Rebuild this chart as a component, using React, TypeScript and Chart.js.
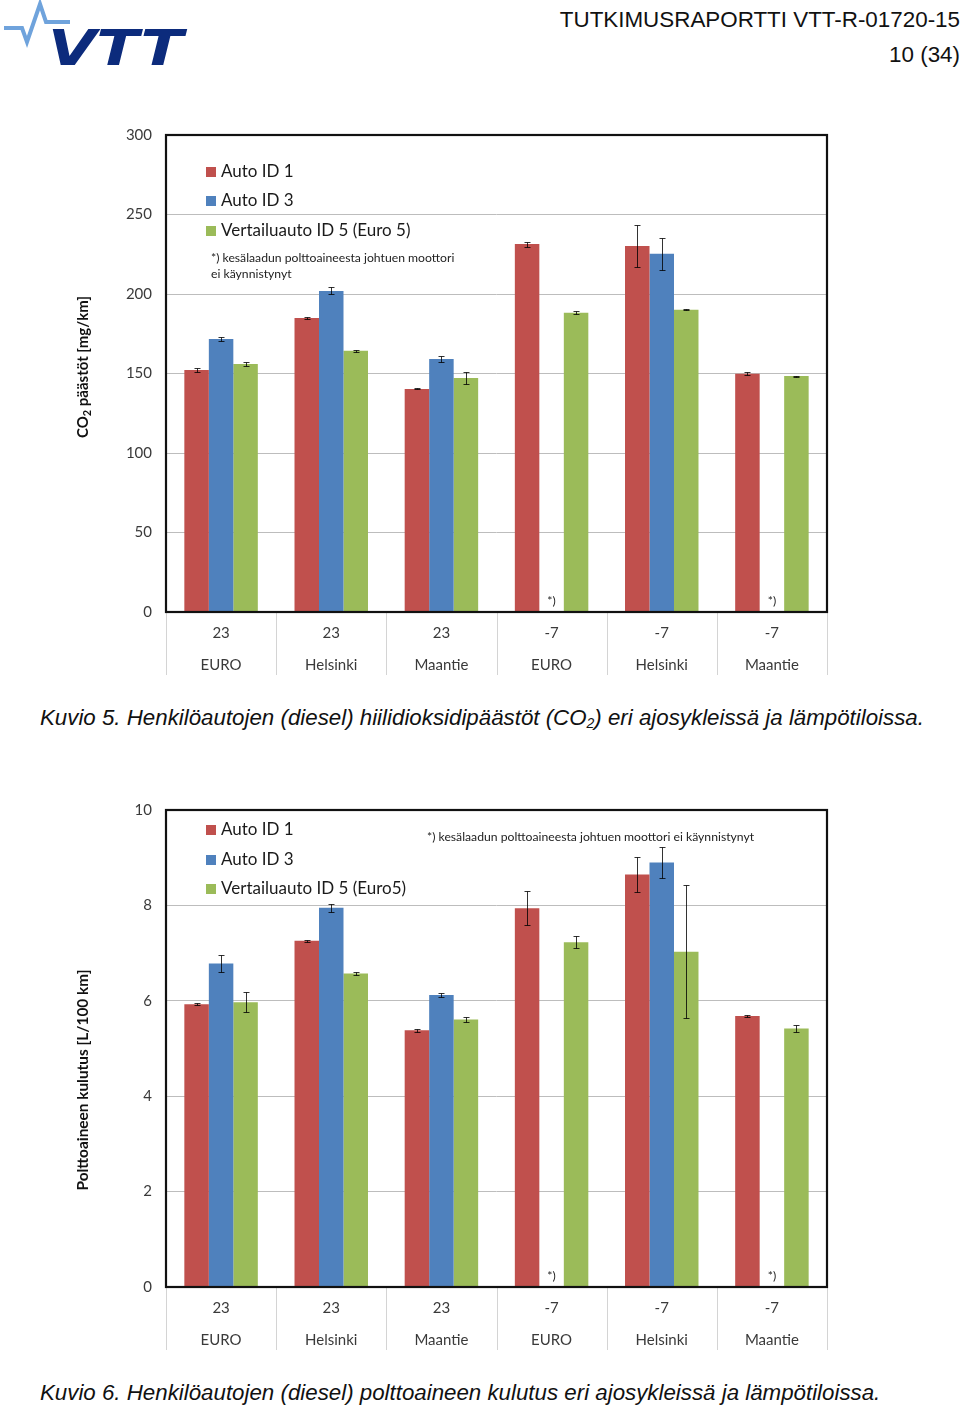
import React, { useEffect, useRef } from "react";
import { Chart, registerables } from "chart.js";

Chart.register(...registerables);

// ---------- data ----------
const tempLabels = ["23", "23", "23", "-7", "-7", "-7"];
const cycleLabels = ["EURO", "Helsinki", "Maantie", "EURO", "Helsinki", "Maantie"];

const seriesNames1 = ["Auto ID 1", "Auto ID 3", "Vertailuauto ID 5 (Euro 5)"];
const seriesNames2 = ["Auto ID 1", "Auto ID 3", "Vertailuauto ID 5 (Euro5)"];

const co2Auto1 = [152.2, 184.9, 140.3, 231.4, 230.2, 149.9];
const co2Auto1Err = [1.5, 0.4, 0.3, 1.6, 13, 1];
const co2Auto3 = [171.7, 201.9, 159.1, null, 225.3, null];
const co2Auto3Err = [1.3, 2.2, 1.8, null, 10, null];
const co2Ref = [156, 164.3, 147.2, 188.2, 190.1, 148.4];
const co2RefErr = [1.2, 0.7, 3.9, 1, 0.4, 0.3];

const fuelAuto1 = [5.93, 7.26, 5.38, 7.94, 8.65, 5.68];
const fuelAuto1Err = [0.02, 0.02, 0.03, 0.36, 0.37, 0.03];
const fuelAuto3 = [6.78, 7.95, 6.12, null, 8.9, null];
const fuelAuto3Err = [0.17, 0.08, 0.04, null, 0.33, null];
const fuelRef = [5.97, 6.57, 5.61, 7.23, 7.03, 5.42];
const fuelRefErr = [0.21, 0.03, 0.05, 0.13, 1.4, 0.08];

const missingNote = "*) kesälaadun polttoaineesta johtuen moottori ei käynnistynyt";
const missingMark = "*)";

const COLORS = ["#C0504D", "#4F81BD", "#9BBB59"];
const FONT = "Lato, 'Open Sans', sans-serif";

type Cfg = {
  names: string[];
  values: (number | null)[][];
  errors: (number | null)[][];
  yMax: number;
  yStep: number;
  padTop: number;
  legendY: number[];
  noteLines: string[];
  noteX: number;
  noteY: number;
  titleParts: { text: string; sub?: boolean }[];
  titleCenterY: number;
  titleSize: number;
};

function makeChart(canvas: HTMLCanvasElement, cfg: Cfg) {
  const decor = {
    id: "decor",
    afterDatasetsDraw(chart: any) {
      const ctx = chart.ctx;
      const ys = chart.scales.y;
      ctx.save();
      ctx.strokeStyle = "rgba(0,0,0,0.8)";
      ctx.lineWidth = 1;
      chart.data.datasets.forEach((ds: any, i: number) => {
        const meta = chart.getDatasetMeta(i);
        meta.data.forEach((el: any, j: number) => {
          const v = ds.data[j];
          const e = cfg.errors[i][j];
          if (v == null || e == null) return;
          const x = Math.round(el.x) + 0.5;
          const t = Math.round(ys.getPixelForValue(v + e)) + 0.5;
          const b = Math.round(ys.getPixelForValue(v - e)) + 0.5;
          ctx.beginPath();
          ctx.moveTo(x, t);
          ctx.lineTo(x, b);
          ctx.moveTo(x - 3, t);
          ctx.lineTo(x + 3, t);
          ctx.moveTo(x - 3, b);
          ctx.lineTo(x + 3, b);
          ctx.stroke();
        });
      });
      ctx.restore();
    },
    afterDraw(chart: any) {
      const ctx = chart.ctx;
      const a = chart.chartArea;
      const xs = chart.scales.x;
      ctx.save();
      // category separators below the plot
      ctx.strokeStyle = "#d4d4d4";
      ctx.lineWidth = 1;
      const n = chart.data.labels.length;
      const w = (a.right - a.left) / n;
      for (let k = 0; k <= n; k++) {
        const x = Math.round(a.left + k * w) + 0.5;
        ctx.beginPath();
        ctx.moveTo(x, a.bottom);
        ctx.lineTo(x, a.bottom + 63);
        ctx.stroke();
      }
      // frame
      ctx.strokeStyle = "#111";
      ctx.lineWidth = 2.2;
      ctx.strokeRect(a.left, a.top, a.right - a.left, a.bottom - a.top);
      // legend
      ctx.textBaseline = "middle";
      ctx.font = `17px ${FONT}`;
      cfg.names.forEach((name, i) => {
        const y = cfg.legendY[i];
        ctx.fillStyle = COLORS[i];
        ctx.fillRect(206, y - 5, 10, 10);
        ctx.fillStyle = "#1a1a1a";
        ctx.fillText(name, 221, y);
      });
      // note
      ctx.font = `12.2px ${FONT}`;
      ctx.fillStyle = "#222";
      cfg.noteLines.forEach((line, i) => ctx.fillText(line, cfg.noteX, cfg.noteY + i * 16));
      // missing marks
      ctx.textAlign = "center";
      cfg.values[1].forEach((v, j) => {
        if (v == null) {
          const x = xs.getPixelForValue(j);
          ctx.fillText(missingMark, x, a.bottom - 11);
        }
      });
      // y title
      ctx.translate(83, cfg.titleCenterY);
      ctx.rotate(-Math.PI / 2);
      ctx.textAlign = "left";
      ctx.fillStyle = "#111";
      const big = `bold ${cfg.titleSize}px ${FONT}`;
      const small = `bold ${Math.round(cfg.titleSize * 0.7)}px ${FONT}`;
      let total = 0;
      cfg.titleParts.forEach((p) => {
        ctx.font = p.sub ? small : big;
        total += ctx.measureText(p.text).width;
      });
      let x0 = -total / 2;
      cfg.titleParts.forEach((p) => {
        ctx.font = p.sub ? small : big;
        ctx.fillText(p.text, x0, p.sub ? 4 : 0);
        x0 += ctx.measureText(p.text).width;
      });
      ctx.restore();
    },
  };

  return new Chart(canvas, {
    type: "bar",
    data: {
      labels: tempLabels.map((t, i) => [t, cycleLabels[i]]),
      datasets: cfg.values.map((vals, i) => ({
        label: cfg.names[i],
        data: vals,
        backgroundColor: COLORS[i],
        borderWidth: 0,
        categoryPercentage: 0.667,
        barPercentage: 1.0,
      })),
    },
    options: {
      animation: false,
      responsive: false,
      devicePixelRatio: 1,
      layout: { padding: { left: 0, right: 133, top: cfg.padTop, bottom: 0 } },
      plugins: { legend: { display: false }, tooltip: { enabled: false } },
      scales: {
        x: {
          grid: { display: false },
          border: { display: false },
          ticks: {
            color: "#3a3a3a",
            font: { family: FONT, size: 15, lineHeight: 32 / 15 },
            padding: -3,
            maxRotation: 0,
            autoSkip: false,
          },
          afterFit: (s: any) => {
            s.height = 78;
          },
        },
        y: {
          min: 0,
          max: cfg.yMax,
          grid: { color: "#bdbdbd", drawTicks: false, lineWidth: 1 },
          border: { display: false },
          ticks: {
            stepSize: cfg.yStep,
            color: "#3a3a3a",
            font: { family: FONT, size: 15 },
            padding: 14,
          },
          afterFit: (s: any) => {
            s.width = 166;
          },
        },
      },
    },
    plugins: [decor],
  } as any);
}

function ChartCanvas({ cfg, top, height }: { cfg: Cfg; top: number; height: number }) {
  const ref = useRef<HTMLCanvasElement>(null);
  useEffect(() => {
    if (!ref.current) return;
    const c = makeChart(ref.current, cfg);
    return () => c.destroy();
  }, []);
  return (
    <canvas
      ref={ref}
      width={960}
      height={height}
      style={{ position: "absolute", left: 0, top, width: 960, height }}
    />
  );
}

const cfg1: Cfg = {
  names: seriesNames1,
  values: [co2Auto1, co2Auto3, co2Ref],
  errors: [co2Auto1Err, co2Auto3Err, co2RefErr],
  yMax: 300,
  yStep: 50,
  padTop: 35,
  legendY: [72, 101, 131],
  noteLines: ["*) kesälaadun polttoaineesta johtuen moottori", "ei käynnistynyt"],
  noteX: 211,
  noteY: 158,
  titleParts: [{ text: "CO" }, { text: "2", sub: true }, { text: " päästöt [mg/km]" }],
  titleCenterY: 267,
  titleSize: 15,
};

const cfg2: Cfg = {
  names: seriesNames2,
  values: [fuelAuto1, fuelAuto3, fuelRef],
  errors: [fuelAuto1Err, fuelAuto3Err, fuelRefErr],
  yMax: 10,
  yStep: 2,
  padTop: 30,
  legendY: [50, 80, 109],
  noteLines: [missingNote],
  noteX: 427,
  noteY: 57,
  titleParts: [{ text: "Polttoaineen kulutus [L/100 km]" }],
  titleCenterY: 300,
  titleSize: 15.4,
};

const textStyle: React.CSSProperties = {
  position: "absolute",
  fontFamily: "'Liberation Sans', Arial, sans-serif",
  color: "#111",
  whiteSpace: "nowrap",
  margin: 0,
};

export default function App() {
  return (
    <div
      style={{
        position: "absolute",
        left: 0,
        top: 0,
        width: 960,
        height: 1409,
        overflow: "hidden",
        background: "#fff",
      }}
    >
      <svg width={200} height={75} style={{ position: "absolute", left: 0, top: 0 }}>
        <polyline
          points="4,28 22,28 27,42 40,4 46,22 70,22"
          fill="none"
          stroke="#6fa3dc"
          strokeWidth={4}
          strokeLinejoin="miter"
        />
        <text
          x={48}
          y={65}
          fontFamily="'DejaVu Sans', sans-serif"
          fontWeight="bold"
          fontStyle="italic"
          fontSize={50}
          fill="#0c2b7c"
          textLength={135}
          lengthAdjust="spacingAndGlyphs"
        >
          VTT
        </text>
      </svg>
      <div style={{ ...textStyle, right: 0, top: 7, fontSize: 22.4, lineHeight: "26px" }}>
        TUTKIMUSRAPORTTI VTT-R-01720-15
      </div>
      <div style={{ ...textStyle, right: 0, top: 42, fontSize: 22.4, lineHeight: "26px" }}>10 (34)</div>

      <ChartCanvas cfg={cfg1} top={100} height={590} />
      <div style={{ ...textStyle, left: 40, top: 704, fontSize: 22.3, lineHeight: "28px", fontStyle: "italic" }}>
        Kuvio 5. Henkilöautojen (diesel) hiilidioksidipäästöt (CO
        <sub style={{ fontSize: 14, verticalAlign: "-3px" }}>2</sub>) eri ajosykleissä ja lämpötiloissa.
      </div>

      <ChartCanvas cfg={cfg2} top={780} height={585} />
      <div style={{ ...textStyle, left: 40, top: 1379, fontSize: 22.3, lineHeight: "28px", fontStyle: "italic" }}>
        Kuvio 6. Henkilöautojen (diesel) polttoaineen kulutus eri ajosykleissä ja lämpötiloissa.
      </div>
    </div>
  );
}
